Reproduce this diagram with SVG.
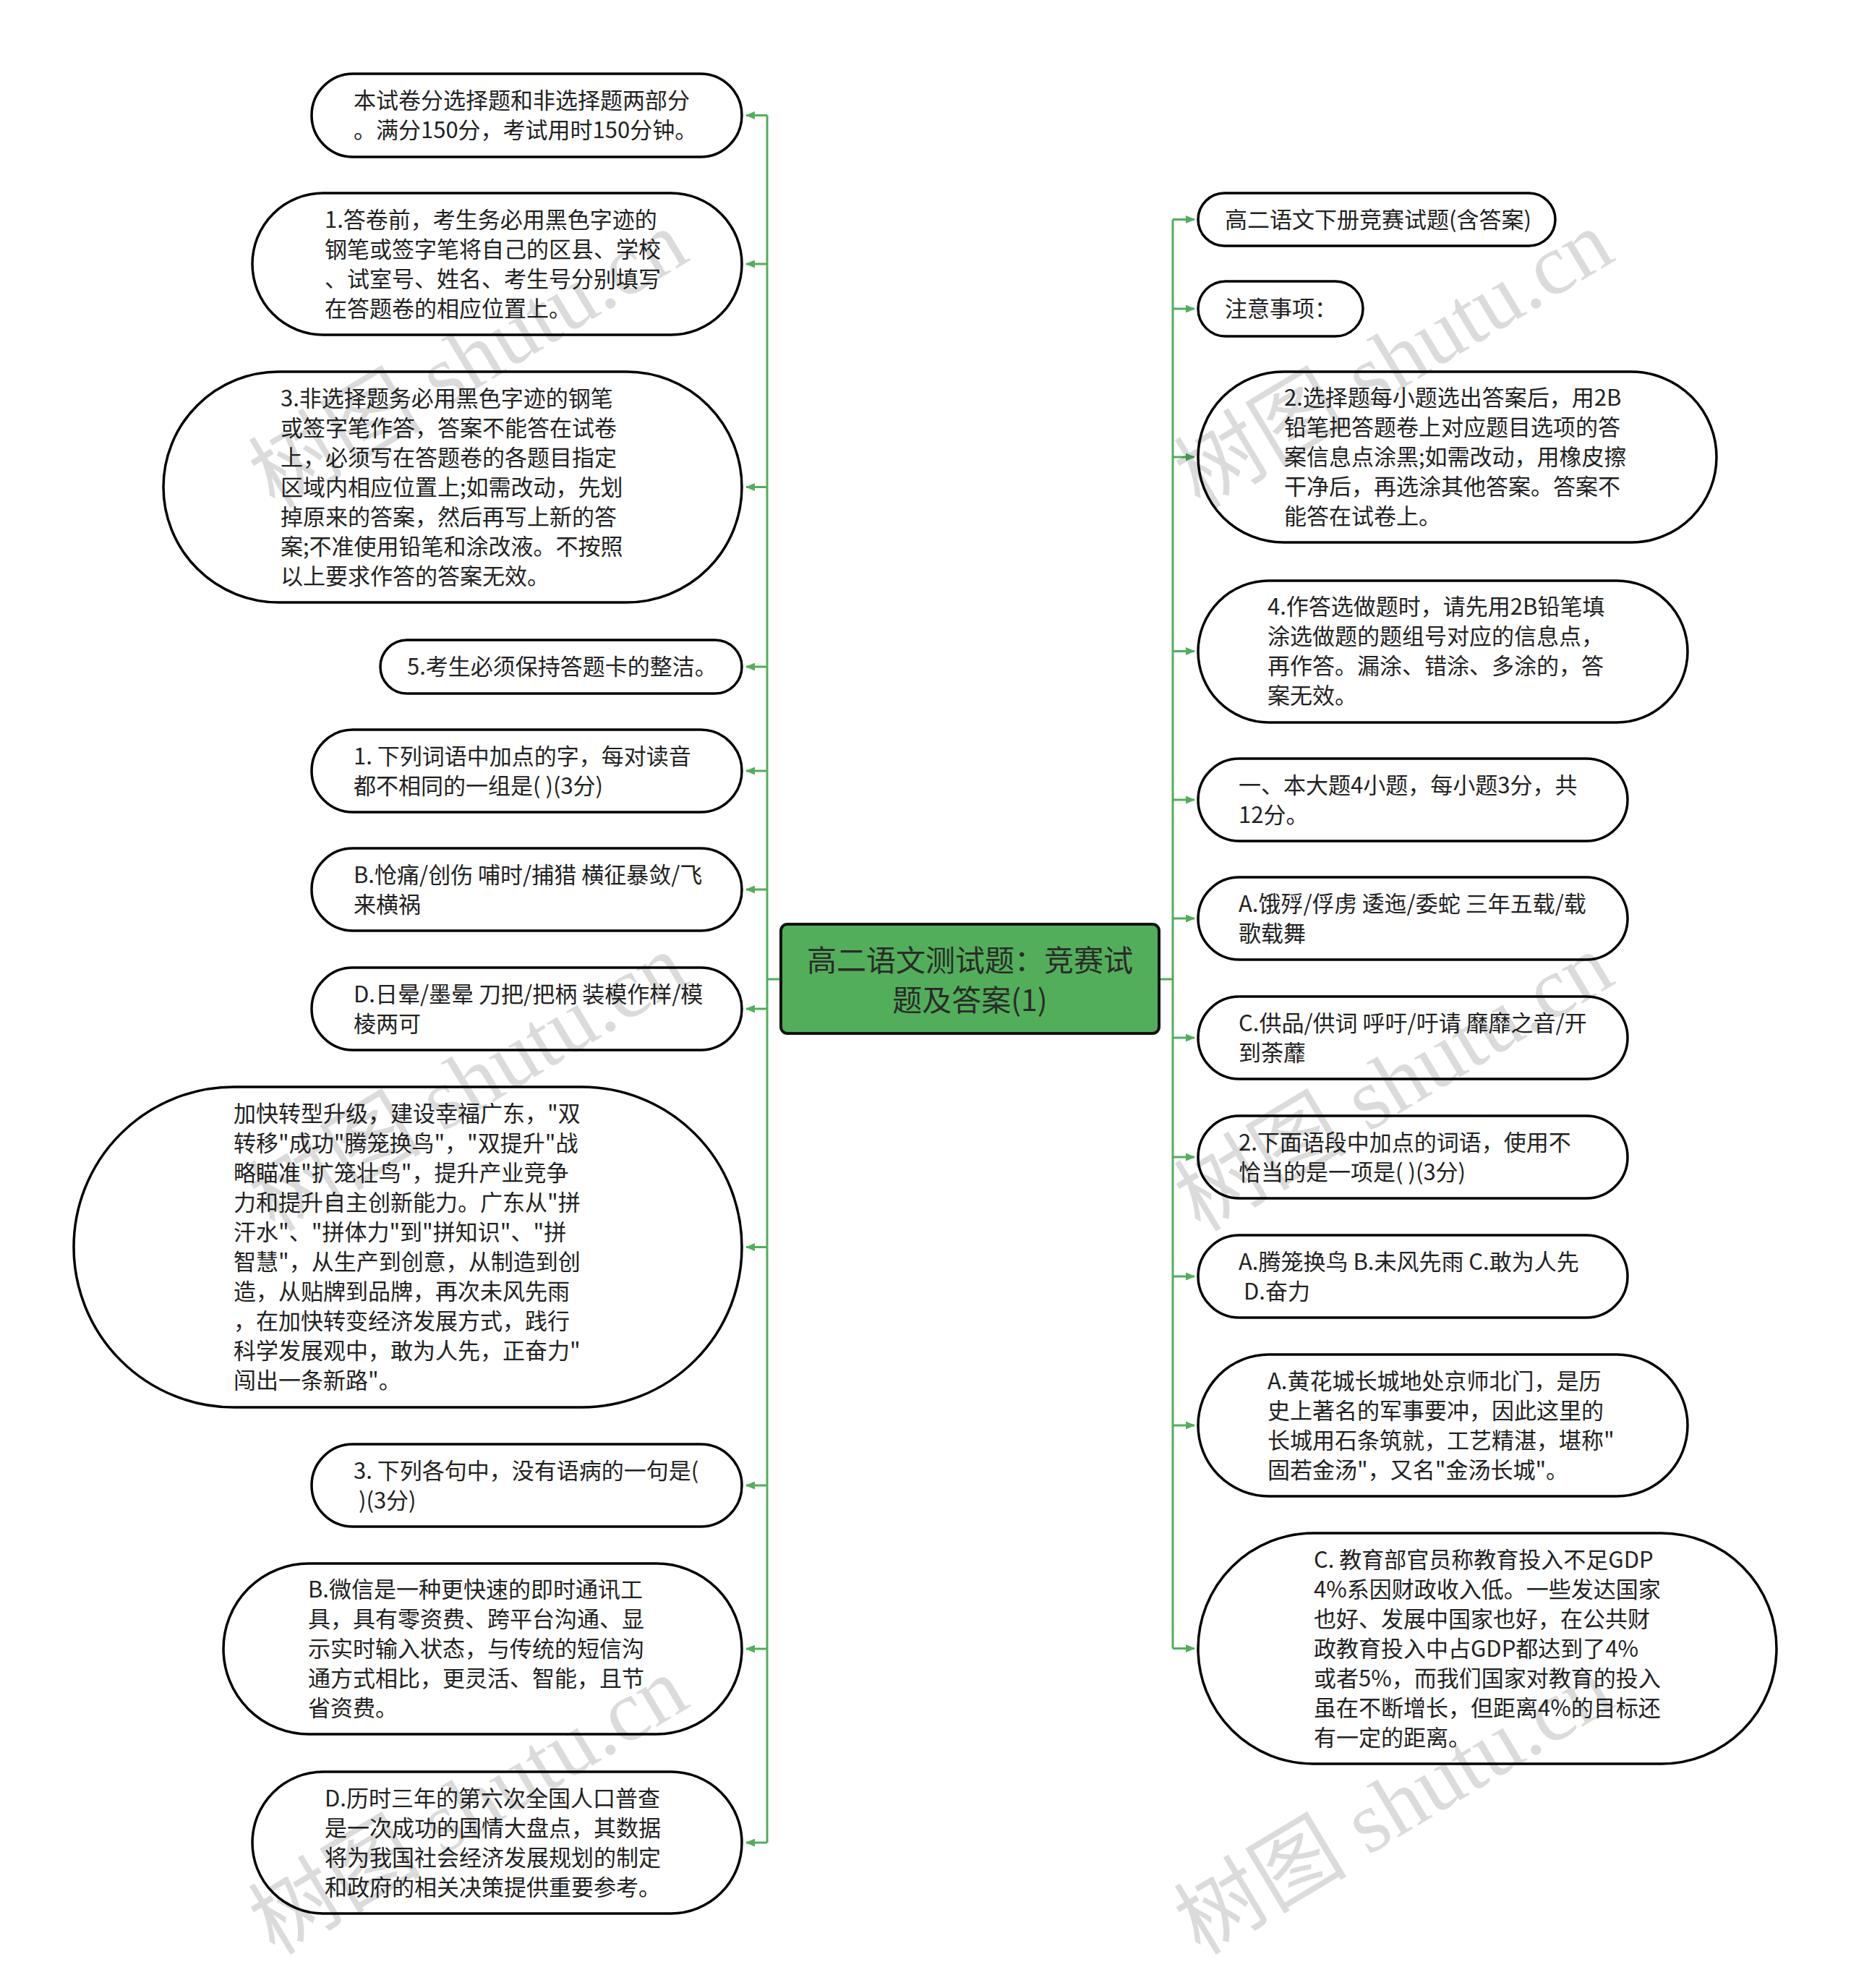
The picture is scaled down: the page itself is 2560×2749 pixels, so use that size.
<svg xmlns="http://www.w3.org/2000/svg" width="2560" height="2749" viewBox="0 0 2560 2749">
<style>
.bg{fill:#fff}
.node rect{fill:#fff;stroke:#000;stroke-width:3.5}
.t{font-family:"Noto Sans CJK SC","Noto Sans",sans-serif;font-size:31px;fill:#222}
.edge{stroke:#52ae5a;stroke-width:3;fill:none}
.root rect{fill:#52ae5a;stroke:#111;stroke-width:4}
.rt{font-family:"Noto Sans CJK SC","Noto Sans",sans-serif;font-size:41px;fill:#2a2a2a;text-anchor:middle}
.wm{font-family:"Liberation Serif","Noto Sans CJK SC",serif;font-size:120px;fill:#000;fill-opacity:0.14}
</style>
<defs>
<marker id="arr" markerUnits="userSpaceOnUse" markerWidth="13" markerHeight="11" refX="12" refY="5.5" orient="auto">
<path d="M0,0 L13,5.5 L0,11 z" fill="#52ae5a"/>
</marker>
</defs>
<rect class="bg" x="0" y="0" width="2560" height="2749"/>

<g id="connectors">
<path class="edge" d="M1080,1354 H1061 M1061,159.5 V2548"/>
<path class="edge" d="M1603,1354 H1622 M1622,303.5 V2279.5"/>
<path class="edge" marker-end="url(#arr)" d="M1061,159.5 H1032"/>
<path class="edge" marker-end="url(#arr)" d="M1061,365 H1032"/>
<path class="edge" marker-end="url(#arr)" d="M1061,673.5 H1032"/>
<path class="edge" marker-end="url(#arr)" d="M1061,922 H1032"/>
<path class="edge" marker-end="url(#arr)" d="M1061,1066 H1032"/>
<path class="edge" marker-end="url(#arr)" d="M1061,1230 H1032"/>
<path class="edge" marker-end="url(#arr)" d="M1061,1395 H1032"/>
<path class="edge" marker-end="url(#arr)" d="M1061,1724.5 H1032"/>
<path class="edge" marker-end="url(#arr)" d="M1061,2054 H1032"/>
<path class="edge" marker-end="url(#arr)" d="M1061,2280 H1032"/>
<path class="edge" marker-end="url(#arr)" d="M1061,2548 H1032"/>
<path class="edge" marker-end="url(#arr)" d="M1622,303.5 H1652"/>
<path class="edge" marker-end="url(#arr)" d="M1622,427 H1652"/>
<path class="edge" marker-end="url(#arr)" d="M1622,632 H1652"/>
<path class="edge" marker-end="url(#arr)" d="M1622,900.5 H1652"/>
<path class="edge" marker-end="url(#arr)" d="M1622,1106 H1652"/>
<path class="edge" marker-end="url(#arr)" d="M1622,1270 H1652"/>
<path class="edge" marker-end="url(#arr)" d="M1622,1435 H1652"/>
<path class="edge" marker-end="url(#arr)" d="M1622,1600 H1652"/>
<path class="edge" marker-end="url(#arr)" d="M1622,1765 H1652"/>
<path class="edge" marker-end="url(#arr)" d="M1622,1971 H1652"/>
<path class="edge" marker-end="url(#arr)" d="M1622,2279.5 H1652"/>
</g>

<g id="root" class="root">
<rect x="1080" y="1278" width="523" height="151" rx="9" ry="9"/>
<text class="rt" x="1341.5" y="1342.5">高二语文测试题：竞赛试</text>
<text class="rt" x="1341.5" y="1397.5">题及答案(1)</text>
</g>

<g id="L1" class="node">
<rect x="431" y="102" width="595" height="115" rx="57.5"/>
<text class="t" x="489" y="150">本试卷分选择题和非选择题两部分</text>
<text class="t" x="489" y="191">。满分150分，考试用时150分钟。</text>
</g>
<g id="L2" class="node">
<rect x="349" y="267" width="677" height="196" rx="98"/>
<text class="t" x="449" y="314.5">1.答卷前，考生务必用黑色字迹的</text>
<text class="t" x="449" y="355.5">钢笔或签字笔将自己的区县、学校</text>
<text class="t" x="449" y="396.5">、试室号、姓名、考生号分别填写</text>
<text class="t" x="449" y="437.5">在答题卷的相应位置上。</text>
</g>
<g id="L3" class="node">
<rect x="226" y="514" width="800" height="319" rx="159.5"/>
<text class="t" x="388" y="561.5">3.非选择题务必用黑色字迹的钢笔</text>
<text class="t" x="388" y="602.5">或签字笔作答，答案不能答在试卷</text>
<text class="t" x="388" y="643.5">上，必须写在答题卷的各题目指定</text>
<text class="t" x="388" y="684.5">区域内相应位置上;如需改动，先划</text>
<text class="t" x="388" y="725.5">掉原来的答案，然后再写上新的答</text>
<text class="t" x="388" y="766.5">案;不准使用铅笔和涂改液。不按照</text>
<text class="t" x="388" y="807.5">以上要求作答的答案无效。</text>
</g>
<g id="L4" class="node">
<rect x="526" y="885" width="500" height="74" rx="37"/>
<text class="t" x="563" y="933">5.考生必须保持答题卡的整洁。</text>
</g>
<g id="L5" class="node">
<rect x="431" y="1009" width="595" height="114" rx="57"/>
<text class="t" x="489" y="1056.5">1. 下列词语中加点的字，每对读音</text>
<text class="t" x="489" y="1097.5">都不相同的一组是( )(3分)</text>
</g>
<g id="L6" class="node">
<rect x="431" y="1173" width="595" height="114" rx="57"/>
<text class="t" x="489" y="1220.5">B.怆痛/创伤 哺时/捕猎 横征暴敛/飞</text>
<text class="t" x="489" y="1261.5">来横祸</text>
</g>
<g id="L7" class="node">
<rect x="431" y="1338" width="595" height="114" rx="57"/>
<text class="t" x="489" y="1385.5">D.日晕/墨晕 刀把/把柄 装模作样/模</text>
<text class="t" x="489" y="1426.5">棱两可</text>
</g>
<g id="L8" class="node">
<rect x="102" y="1503" width="924" height="443" rx="221.5"/>
<text class="t" x="323" y="1551">加快转型升级，建设幸福广东，"双</text>
<text class="t" x="323" y="1592">转移"成功"腾笼换鸟"，"双提升"战</text>
<text class="t" x="323" y="1633">略瞄准"扩笼壮鸟"，提升产业竞争</text>
<text class="t" x="323" y="1674">力和提升自主创新能力。广东从"拼</text>
<text class="t" x="323" y="1715">汗水"、"拼体力"到"拼知识"、"拼</text>
<text class="t" x="323" y="1756">智慧"，从生产到创意，从制造到创</text>
<text class="t" x="323" y="1797">造，从贴牌到品牌，再次未风先雨</text>
<text class="t" x="323" y="1838">，在加快转变经济发展方式，践行</text>
<text class="t" x="323" y="1879">科学发展观中，敢为人先，正奋力"</text>
<text class="t" x="323" y="1920">闯出一条新路"。</text>
</g>
<g id="L9" class="node">
<rect x="431" y="1997" width="595" height="114" rx="57"/>
<text class="t" x="489" y="2044.5">3. 下列各句中，没有语病的一句是(</text>
<text class="t" x="489" y="2085.5">&#160;)(3分)</text>
</g>
<g id="L10" class="node">
<rect x="309" y="2162" width="717" height="236" rx="118"/>
<text class="t" x="426" y="2209">B.微信是一种更快速的即时通讯工</text>
<text class="t" x="426" y="2250">具，具有零资费、跨平台沟通、显</text>
<text class="t" x="426" y="2291">示实时输入状态，与传统的短信沟</text>
<text class="t" x="426" y="2332">通方式相比，更灵活、智能，且节</text>
<text class="t" x="426" y="2373">省资费。</text>
</g>
<g id="L11" class="node">
<rect x="349" y="2450" width="677" height="196" rx="98"/>
<text class="t" x="449" y="2497.5">D.历时三年的第六次全国人口普查</text>
<text class="t" x="449" y="2538.5">是一次成功的国情大盘点，其数据</text>
<text class="t" x="449" y="2579.5">将为我国社会经济发展规划的制定</text>
<text class="t" x="449" y="2620.5">和政府的相关决策提供重要参考。</text>
</g>

<g id="R1" class="node">
<rect x="1657" y="267" width="494" height="73" rx="36.5"/>
<text class="t" x="1694" y="314.5">高二语文下册竞赛试题(含答案)</text>
</g>
<g id="R2" class="node">
<rect x="1657" y="389" width="228" height="76" rx="38"/>
<text class="t" x="1694" y="438">注意事项：</text>
</g>
<g id="R3" class="node">
<rect x="1657" y="514" width="717" height="236" rx="118"/>
<text class="t" x="1776" y="561">2.选择题每小题选出答案后，用2B</text>
<text class="t" x="1776" y="602">铅笔把答题卷上对应题目选项的答</text>
<text class="t" x="1776" y="643">案信息点涂黑;如需改动，用橡皮擦</text>
<text class="t" x="1776" y="684">干净后，再选涂其他答案。答案不</text>
<text class="t" x="1776" y="725">能答在试卷上。</text>
</g>
<g id="R4" class="node">
<rect x="1657" y="803" width="677" height="196" rx="98"/>
<text class="t" x="1753" y="850">4.作答选做题时，请先用2B铅笔填</text>
<text class="t" x="1753" y="891">涂选做题的题组号对应的信息点，</text>
<text class="t" x="1753" y="932">再作答。漏涂、错涂、多涂的，答</text>
<text class="t" x="1753" y="973">案无效。</text>
</g>
<g id="R5" class="node">
<rect x="1657" y="1049" width="594" height="114" rx="57"/>
<text class="t" x="1713" y="1096.5">一、本大题4小题，每小题3分，共</text>
<text class="t" x="1713" y="1137.5">12分。</text>
</g>
<g id="R6" class="node">
<rect x="1657" y="1213" width="594" height="114" rx="57"/>
<text class="t" x="1713" y="1260.5">A.饿殍/俘虏 逶迤/委蛇 三年五载/载</text>
<text class="t" x="1713" y="1301.5">歌载舞</text>
</g>
<g id="R7" class="node">
<rect x="1657" y="1378" width="594" height="114" rx="57"/>
<text class="t" x="1713" y="1425.5">C.供品/供词 呼吁/吁请 靡靡之音/开</text>
<text class="t" x="1713" y="1466.5">到荼蘼</text>
</g>
<g id="R8" class="node">
<rect x="1657" y="1543" width="594" height="114" rx="57"/>
<text class="t" x="1713" y="1590.5">2.下面语段中加点的词语，使用不</text>
<text class="t" x="1713" y="1631.5">恰当的是一项是( )(3分)</text>
</g>
<g id="R9" class="node">
<rect x="1657" y="1708" width="594" height="114" rx="57"/>
<text class="t" x="1713" y="1755.5">A.腾笼换鸟 B.未风先雨 C.敢为人先</text>
<text class="t" x="1713" y="1796.5">&#160;D.奋力</text>
</g>
<g id="R10" class="node">
<rect x="1657" y="1873" width="677" height="196" rx="98"/>
<text class="t" x="1753" y="1920.5">A.黄花城长城地处京师北门，是历</text>
<text class="t" x="1753" y="1961.5">史上著名的军事要冲，因此这里的</text>
<text class="t" x="1753" y="2002.5">长城用石条筑就，工艺精湛，堪称"</text>
<text class="t" x="1753" y="2043.5">固若金汤"，又名"金汤长城"。</text>
</g>
<g id="R11" class="node">
<rect x="1657" y="2120" width="800" height="319" rx="159.5"/>
<text class="t" x="1817" y="2167.5">C. 教育部官员称教育投入不足GDP</text>
<text class="t" x="1817" y="2208.5">4%系因财政收入低。一些发达国家</text>
<text class="t" x="1817" y="2249.5">也好、发展中国家也好，在公共财</text>
<text class="t" x="1817" y="2290.5">政教育投入中占GDP都达到了4%</text>
<text class="t" x="1817" y="2331.5">或者5%，而我们国家对教育的投入</text>
<text class="t" x="1817" y="2372.5">虽在不断增长，但距离4%的目标还</text>
<text class="t" x="1817" y="2413.5">有一定的距离。</text>
</g>

<g id="watermarks">
<text class="wm" transform="translate(380,705) rotate(-31)">树图 shutu.cn</text>
<text class="wm" transform="translate(1660,705) rotate(-31)">树图 shutu.cn</text>
<text class="wm" transform="translate(380,1705) rotate(-31)">树图 shutu.cn</text>
<text class="wm" transform="translate(1660,1705) rotate(-31)">树图 shutu.cn</text>
<text class="wm" transform="translate(380,2705) rotate(-31)">树图 shutu.cn</text>
<text class="wm" transform="translate(1660,2705) rotate(-31)">树图 shutu.cn</text>
</g>
</svg>
